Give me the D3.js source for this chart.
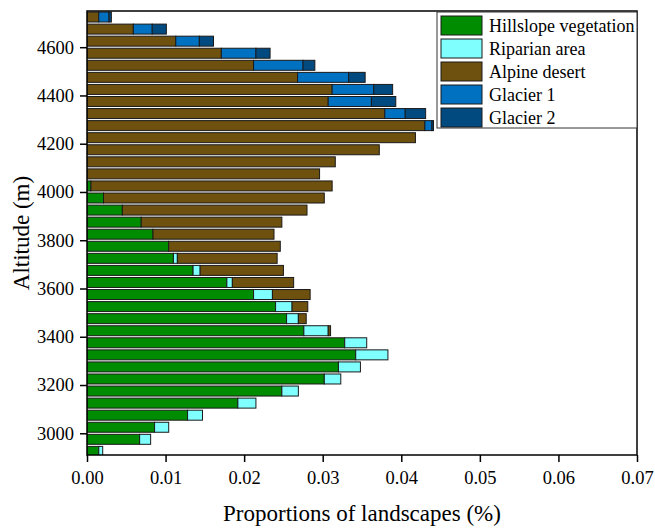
<!DOCTYPE html>
<html lang="en">
<head>
	<meta charset="utf-8" />
	<title>Proportions of landscapes by altitude</title>
	<script src="https://d3js.org/d3.v7.min.js"></script>
	<style>
	body {
		margin: 0;
		background: white;
	}
	text {
		font-family: "Liberation Serif", "Times New Roman", serif;
		fill: black;
	}
	.tick text {
		font-size: 18.5px;
	}
	.bar {
		stroke: #1a1a1a;
		stroke-width: 1px;
	}
	</style>
</head>
<body>
<svg width="655" height="530"></svg>
<script>

//	altitude bins (centre of each 50 m band), bottom to top
var altitudes = [2925, 2975, 3025, 3075, 3125, 3175, 3225, 3275, 3325, 3375,
	3425, 3475, 3525, 3575, 3625, 3675, 3725, 3775, 3825, 3875,
	3925, 3975, 4025, 4075, 4125, 4175, 4225, 4275, 4325, 4375,
	4425, 4475, 4525, 4575, 4625, 4675, 4725];

//	proportion of each landscape type per band (%)
var hillslope = [0.0015, 0.0067, 0.0086, 0.0128, 0.0192, 0.0248, 0.0302, 0.0320, 0.0342, 0.0328,
	0.0276, 0.0254, 0.0240, 0.0212, 0.0178, 0.0135, 0.0110, 0.0104, 0.0084, 0.0069,
	0.0045, 0.0021, 0.0005, 0, 0, 0, 0, 0, 0, 0,
	0, 0, 0, 0, 0, 0, 0];
var riparian = [0.0005, 0.0014, 0.0018, 0.0019, 0.0023, 0.0021, 0.0021, 0.0028, 0.0041, 0.0028,
	0.0031, 0.0015, 0.0021, 0.0024, 0.0007, 0.0009, 0.0005, 0, 0, 0,
	0, 0, 0, 0, 0, 0, 0, 0, 0, 0,
	0, 0, 0, 0, 0, 0, 0];
var alpine = [0, 0, 0, 0, 0, 0, 0, 0, 0, 0,
	0.0003, 0.0010, 0.0020, 0.0048, 0.0078, 0.0106, 0.0127, 0.0142, 0.0154, 0.0179,
	0.0235, 0.0281, 0.0307, 0.0296, 0.0316, 0.0372, 0.0418, 0.0430, 0.0379, 0.0307,
	0.0312, 0.0268, 0.0212, 0.0171, 0.0113, 0.0059, 0.0015];
var glacier1 = [0, 0, 0, 0, 0, 0, 0, 0, 0, 0,
	0, 0, 0, 0, 0, 0, 0, 0, 0, 0,
	0, 0, 0, 0, 0, 0, 0, 0.0009, 0.0026, 0.0055,
	0.0053, 0.0065, 0.0063, 0.0044, 0.0030, 0.0024, 0.0013];
var glacier2 = [0, 0, 0, 0, 0, 0, 0, 0, 0, 0,
	0, 0, 0, 0, 0, 0, 0, 0, 0, 0,
	0, 0, 0, 0, 0, 0, 0, 0.0002, 0.0026, 0.0031,
	0.0024, 0.0021, 0.0015, 0.0018, 0.0018, 0.0018, 0.0003];

var keys = ["hillslope", "riparian", "alpine", "glacier1", "glacier2"];
var labels = ["Hillslope vegetation", "Riparian area", "Alpine desert", "Glacier 1", "Glacier 2"];
var colors = ["#008c00", "#80ffff", "#6e500f", "#0070c0", "#004a80"];

var xTicks = [0, 0.01, 0.02, 0.03, 0.04, 0.05, 0.06, 0.07];
var yTicks = [3000, 3200, 3400, 3600, 3800, 4000, 4200, 4400, 4600];

//	rows for the stack
var rows = altitudes.map(function(a, i) {
	return {
		alt: a,
		hillslope: hillslope[i],
		riparian: riparian[i],
		alpine: alpine[i],
		glacier1: glacier1[i],
		glacier2: glacier2[i]
	};
});

//	plot box
var svg = d3.select("svg"),
	plotLeft = 87, plotRight = 637, plotTop = 11, plotBottom = 455;

var x = d3.scaleLinear().domain([0, 0.07]).range([plotLeft, plotRight]);
var y = d3.scaleLinear().domain([2910, 4750]).range([plotBottom, plotTop]);
var halfBand = 20.7;	// metres either side of the band centre

var color = d3.scaleOrdinal().domain(keys).range(colors);

svg.append("defs").append("clipPath")
	.attr("id", "plot-clip")
	.append("rect")
	.attr("x", plotLeft)
	.attr("y", plotTop)
	.attr("width", plotRight - plotLeft)
	.attr("height", plotBottom - plotTop);

var series = d3.stack().keys(keys)(rows);

//	bars
svg.append("g")
	.attr("clip-path", "url(#plot-clip)")
	.selectAll("g")
	.data(series)
	.enter().append("g")
	.attr("fill", function(d) { return color(d.key); })
	.selectAll("rect")
	.data(function(d) { return d.filter(function(p) { return p[1] - p[0] > 0; }); })
	.enter().append("rect")
	.attr("class", "bar")
	.attr("x", function(d) { return x(d[0]); })
	.attr("width", function(d) { return x(d[1]) - x(d[0]); })
	.attr("y", function(d) { return y(d.data.alt + halfBand); })
	.attr("height", function(d) { return y(d.data.alt - halfBand) - y(d.data.alt + halfBand); });

//	frame
svg.append("rect")
	.attr("x", plotLeft)
	.attr("y", plotTop)
	.attr("width", plotRight - plotLeft)
	.attr("height", plotBottom - plotTop)
	.attr("fill", "none")
	.attr("stroke", "black")
	.attr("stroke-width", 1.5);

//	axes
var xAxis = svg.append("g")
	.attr("transform", "translate(0," + plotBottom + ")")
	.call(d3.axisBottom(x).tickValues(xTicks).tickFormat(d3.format(".2f")).tickSize(7).tickPadding(9));

var yAxis = svg.append("g")
	.attr("transform", "translate(" + plotLeft + ",0)")
	.call(d3.axisLeft(y).tickValues(yTicks).tickFormat(d3.format("d")).tickSize(7).tickPadding(6));

[xAxis, yAxis].forEach(function(a) {
	a.select(".domain").remove();
	a.selectAll(".tick line").attr("stroke", "black").attr("stroke-width", 1.5);
	a.selectAll(".tick text").style("font-family", "'Liberation Serif', 'Times New Roman', serif");
});

//	axis titles
svg.append("text")
	.attr("x", (plotLeft + plotRight) / 2)
	.attr("y", 521)
	.attr("text-anchor", "middle")
	.style("font-size", "23px")
	.text("Proportions of landscapes (%)");

svg.append("text")
	.attr("transform", "translate(29," + (plotTop + plotBottom) / 2 + ") rotate(-90)")
	.attr("text-anchor", "middle")
	.style("font-size", "23px")
	.text("Altitude (m)");

//	legend
var legend = svg.append("g");

legend.append("rect")
	.attr("x", 437)
	.attr("y", 12)
	.attr("width", plotRight - 437)
	.attr("height", 116)
	.attr("fill", "white")
	.attr("stroke", "#333")
	.attr("stroke-width", 1);

var item = legend.selectAll(".item")
	.data(keys)
	.enter().append("g")
	.attr("class", "item")
	.attr("transform", function(d, i) { return "translate(441," + (16 + i * 23) + ")"; });

item.append("rect")
	.attr("width", 41)
	.attr("height", 19)
	.attr("fill", function(d) { return color(d); })
	.attr("stroke", "#1a1a1a");

item.append("text")
	.attr("x", 48)
	.attr("y", 16)
	.style("font-size", "18px")
	.text(function(d, i) { return labels[i]; });

</script>
</body>
</html>
